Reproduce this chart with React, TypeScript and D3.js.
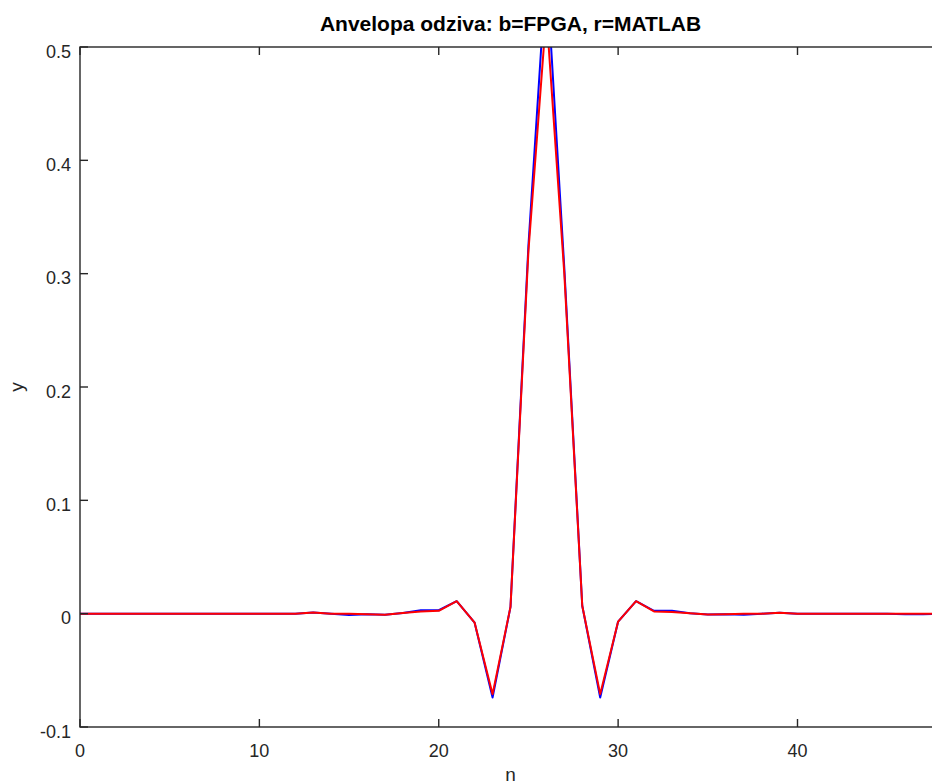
import React from 'react';
import * as d3 from 'd3';

// sample index n = 0..48
const nValues = d3.range(0, 49);

// r = MATLAB reference envelope
const matlabY = [
  0, 0, 0, 0, 0, 0, 0, 0, 0, 0,
  0, 0, 0, 0.001, 0, 0, -0.0005, -0.001, 0.0005, 0.002,
  0.0025, 0.011, -0.008, -0.071, 0.006, 0.32, 0.53, 0.30, 0.007, -0.071,
  -0.007, 0.011, 0.002, 0.0015, 0.0003, -0.0008, -0.0005, 0, 0, 0.0008,
  0, 0, 0, 0, 0, 0, 0, 0, 0,
];

// b = FPGA output envelope
const fpgaY = [
  0, 0, 0, 0, 0, 0, 0, 0, 0, 0,
  0, 0, 0, 0.001, 0, -0.0012, -0.0005, -0.001, 0.0005, 0.003,
  0.003, 0.011, -0.008, -0.074, 0.006, 0.325, 0.57, 0.305, 0.007, -0.074,
  -0.007, 0.011, 0.0025, 0.0025, 0.0003, -0.0008, -0.0005, -0.001, 0, 0.0008,
  0, 0, 0, 0, 0, 0, -0.0006, -0.0006, 0,
];

const xTicks = [0, 10, 20, 30, 40];
const yTicks = [-0.1, 0, 0.1, 0.2, 0.3, 0.4, 0.5];

const width = 932;
const height = 784;
const margin = { top: 47, left: 80, bottom: 57 };
const plotRight = 941;
const axisColor = '#262626';
const font = '"Liberation Sans", Arial, sans-serif';

const App = () => {
  const x = d3.scaleLinear().domain([0, 48]).range([margin.left, plotRight]);
  const y = d3.scaleLinear().domain([-0.1, 0.5]).range([height - margin.bottom, margin.top]);

  const line = d3.line<number>()
    .x((d, i) => x(nValues[i]))
    .y(d => y(d));

  const top = y(0.5);
  const bottom = y(-0.1);
  const tickLen = 8;

  return (
    <svg width={width} height={height} style={{ position: 'absolute', left: 0, top: 0, background: '#fff' }}>
      <defs>
        <clipPath id="plotClip">
          <rect x={margin.left} y={top} width={plotRight - margin.left} height={bottom - top} />
        </clipPath>
      </defs>
      <rect x={0} y={0} width={width} height={height} fill="#fff" />

      <g clipPath="url(#plotClip)">
        <path d={line(fpgaY) || ''} fill="none" stroke="#0000ff" strokeWidth={2} strokeLinejoin="round" />
        <path d={line(matlabY) || ''} fill="none" stroke="#ff0000" strokeWidth={2} strokeLinejoin="round" />
      </g>

      {/* box */}
      <rect x={margin.left} y={top} width={plotRight - margin.left} height={bottom - top}
        fill="none" stroke={axisColor} strokeWidth={1.4} />

      {/* x ticks */}
      {xTicks.map(t => (
        <g key={'x' + t}>
          <line x1={x(t)} x2={x(t)} y1={bottom} y2={bottom - tickLen} stroke={axisColor} strokeWidth={1.4} />
          <line x1={x(t)} x2={x(t)} y1={top} y2={top + tickLen} stroke={axisColor} strokeWidth={1.4} />
          <text x={x(t)} y={bottom + 30} textAnchor="middle" fontFamily={font} fontSize={18} fill={axisColor}>{t}</text>
        </g>
      ))}

      {/* y ticks */}
      {yTicks.map(t => (
        <g key={'y' + t}>
          <line x1={margin.left} x2={margin.left + tickLen} y1={y(t)} y2={y(t)} stroke={axisColor} strokeWidth={1.4} />
          <line x1={plotRight} x2={plotRight - tickLen} y1={y(t)} y2={y(t)} stroke={axisColor} strokeWidth={1.4} />
          <text x={margin.left - 9} y={y(t)} dy="0.6em" textAnchor="end" fontFamily={font} fontSize={18} fill={axisColor}>{t}</text>
        </g>
      ))}

      <text x={(margin.left + plotRight) / 2} y={781} textAnchor="middle" fontFamily={font} fontSize={19} fill={axisColor}>n</text>
      <text transform={`translate(23, ${(top + bottom) / 2}) rotate(-90)`} textAnchor="middle" fontFamily={font} fontSize={19} fill={axisColor}>y</text>
      <text x={(margin.left + plotRight) / 2} y={31} textAnchor="middle" fontFamily={font} fontSize={21} fontWeight="bold" fill="#000">
        Anvelopa odziva: b=FPGA, r=MATLAB
      </text>
    </svg>
  );
};

export default App;
